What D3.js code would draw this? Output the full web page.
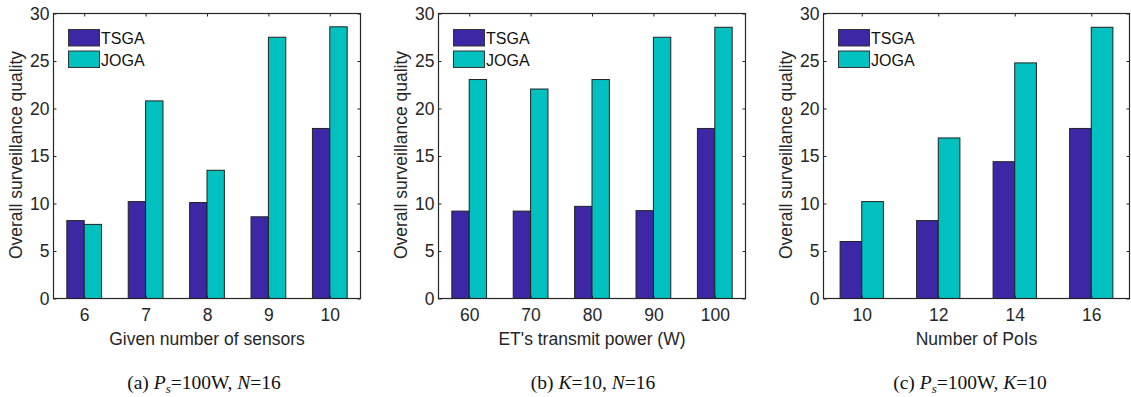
<!DOCTYPE html>
<html>
<head>
<meta charset="utf-8">
<script src="https://cdn.jsdelivr.net/npm/d3@7"></script>
<style>
  body { margin: 0; background: #fff; }
  svg { display: block; }
</style>
</head>
<body>
<script>
// data
const sensors = ['6', '7', '8', '9', '10'];
const tsgaSensors = [8.2, 10.2, 10.1, 8.6, 17.9];
const jogaSensors = [7.8, 20.8, 13.5, 27.5, 28.6];

const power = ['60', '70', '80', '90', '100'];
const tsgaPower = [9.2, 9.2, 9.7, 9.25, 17.9];
const jogaPower = [23.05, 22.05, 23.05, 27.5, 28.55];

const pois = ['10', '12', '14', '16'];
const tsgaPois = [6.0, 8.2, 14.4, 17.9];
const jogaPois = [10.2, 16.9, 24.8, 28.55];

const yTicks = [0, 5, 10, 15, 20, 25, 30];
const seriesNames = ['TSGA', 'JOGA'];
const colors = ['#3d27a5', '#00c0c0'];

const svg = d3.select('body').append('svg')
  .attr('width', 1131)
  .attr('height', 397);

const panels = [
  { cats: sensors, a: tsgaSensors, b: jogaSensors, left: 53.5, right: 360.5, xTitle: 'Given number of sensors',
    cap: ['(a) ', 'P', 's', '=100W, ', 'N', '=16'], capX: 204, yTitleX: 16 },
  { cats: power, a: tsgaPower, b: jogaPower, left: 438.5, right: 745.5, xTitle: "ET's transmit power (W)",
    cap: ['(b) ', 'K', '', '=10, ', 'N', '=16'], capX: 593, yTitleX: 401 },
  { cats: pois, a: tsgaPois, b: jogaPois, left: 823.5, right: 1129.5, xTitle: 'Number of PoIs',
    cap: ['(c) ', 'P', 's', '=100W, ', 'K', '=10'], capX: 970, yTitleX: 786 }
];

const plotTop = 13.5, plotBottom = 298.5;
const axisFont = 'Liberation Sans, Arial, sans-serif';

panels.forEach(p => {
  const g = svg.append('g');
  const n = p.cats.length;
  const x = d3.scaleLinear().domain([-0.5, n - 0.5]).range([p.left, p.right]);
  const y = d3.scaleLinear().domain([0, 30]).range([plotBottom, plotTop]);
  const step = x(1) - x(0);
  const bw = step * 0.283;

  // bars
  [p.a, p.b].forEach((vals, s) => {
    g.selectAll('.bar' + s)
      .data(vals)
      .enter().append('rect')
      .attr('class', 'bar' + s)
      .attr('x', (d, i) => s === 0 ? x(i) - bw : x(i))
      .attr('y', d => y(d))
      .attr('width', bw)
      .attr('height', d => plotBottom - y(d))
      .attr('fill', colors[s])
      .attr('stroke', '#222')
      .attr('stroke-width', 1);
  });

  // axes with inward ticks on all four sides
  const tickLen = 3;
  g.append('g').attr('transform', `translate(${p.left},0)`)
    .call(d3.axisLeft(y).tickValues(yTicks).tickSize(-tickLen).tickPadding(4));
  g.append('g').attr('transform', `translate(${p.right},0)`)
    .call(d3.axisRight(y).tickValues(yTicks).tickSize(-tickLen).tickFormat(''));
  g.append('g').attr('transform', `translate(0,${plotBottom})`)
    .call(d3.axisBottom(x).tickValues(d3.range(n)).tickSize(-tickLen).tickPadding(10)
      .tickFormat(i => p.cats[i]));
  g.append('g').attr('transform', `translate(0,${plotTop})`)
    .call(d3.axisTop(x).tickValues(d3.range(n)).tickSize(-tickLen).tickFormat(''));

  g.selectAll('.domain').remove();
  g.selectAll('.tick line').attr('stroke', '#262626');
  g.selectAll('.tick text')
    .attr('fill', '#262626')
    .style('font-family', axisFont)
    .style('font-size', '17.5px');

  // box
  g.append('rect')
    .attr('x', p.left).attr('y', plotTop)
    .attr('width', p.right - p.left).attr('height', plotBottom - plotTop)
    .attr('fill', 'none')
    .attr('stroke', '#262626')
    .attr('stroke-width', 1.2);

  // axis titles
  g.append('text')
    .attr('x', (p.left + p.right) / 2)
    .attr('y', 345)
    .attr('text-anchor', 'middle')
    .attr('fill', '#262626')
    .style('font-family', axisFont)
    .style('font-size', '17.5px')
    .text(p.xTitle);

  g.append('text')
    .attr('transform', `translate(${p.yTitleX},${(plotTop + plotBottom) / 2 - 1}) rotate(-90)`)
    .attr('text-anchor', 'middle')
    .attr('dy', '0.35em')
    .attr('fill', '#262626')
    .style('font-family', axisFont)
    .style('font-size', '17.5px')
    .text('Overall surveillance quality');

  // legend
  seriesNames.forEach((name, s) => {
    const ly = 29.5 + s * 21.5;
    g.append('rect')
      .attr('x', p.left + 15)
      .attr('y', ly)
      .attr('width', 31)
      .attr('height', 16.5)
      .attr('fill', colors[s])
      .attr('stroke', '#333');
    g.append('text')
      .attr('x', p.left + 47.5)
      .attr('y', ly + 14.5)
      .attr('fill', '#111')
      .style('font-family', axisFont)
      .style('font-size', '16px')
      .text(name);
  });

  // caption
  const cap = g.append('text')
    .attr('x', p.capX)
    .attr('y', 389)
    .attr('text-anchor', 'middle')
    .attr('fill', '#111')
    .style('font-family', 'Liberation Serif, Times New Roman, serif')
    .style('font-size', '19.5px');
  cap.append('tspan').text(p.cap[0]);
  cap.append('tspan').style('font-style', 'italic').text(p.cap[1]);
  if (p.cap[2]) {
    cap.append('tspan').style('font-style', 'italic').style('font-size', '13px').attr('dy', 4).text(p.cap[2]);
    cap.append('tspan').attr('dy', -4).text(p.cap[3]);
  } else {
    cap.append('tspan').text(p.cap[3]);
  }
  cap.append('tspan').style('font-style', 'italic').text(p.cap[4]);
  cap.append('tspan').text(p.cap[5]);
});
</script>
</body>
</html>
